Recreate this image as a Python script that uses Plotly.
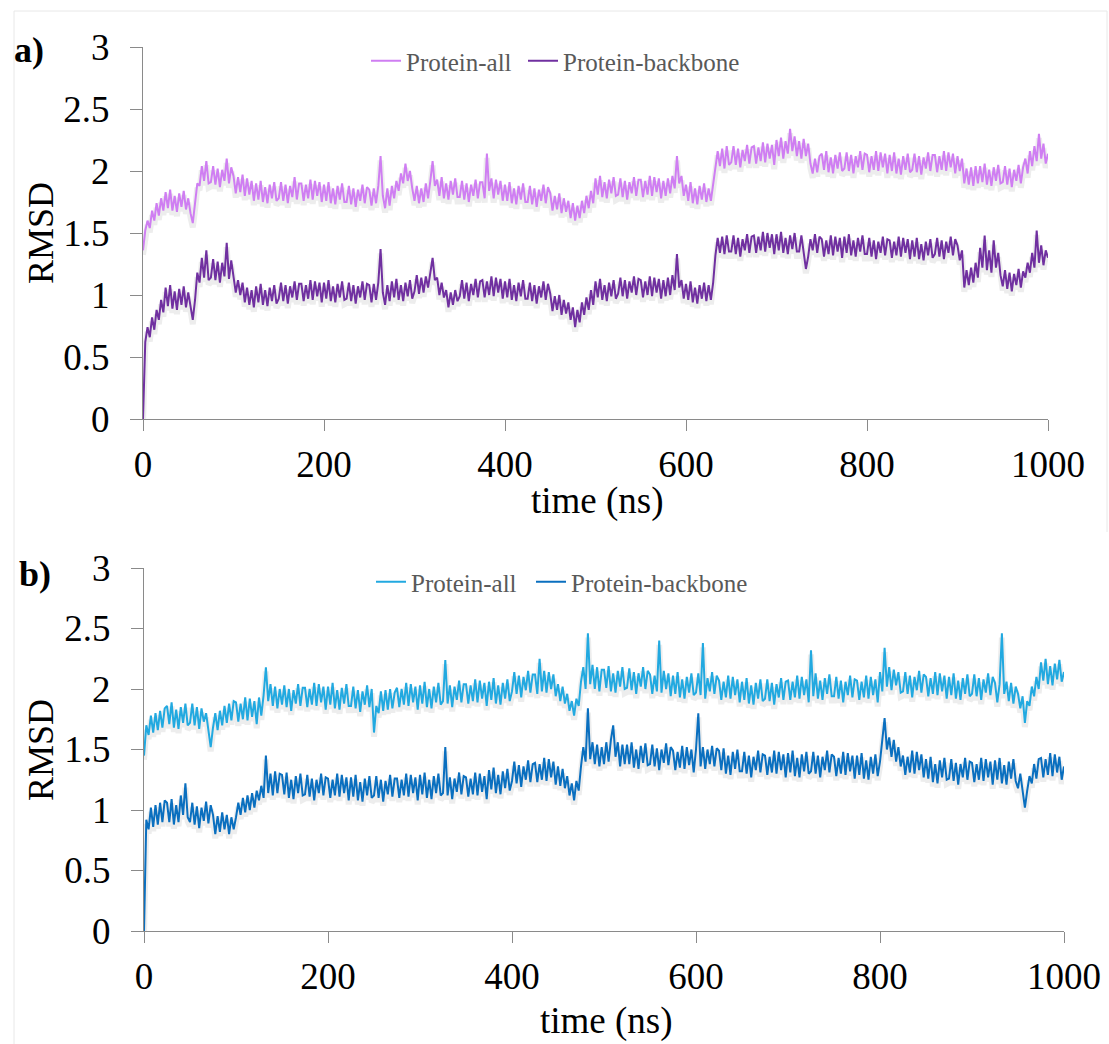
import plotly.graph_objects as go

# time grid (ns), one sample every 2.5 ns
time_ns = [i * 2.5 for i in range(401)]

# Panel a) RMSD values
a_protein_all = [
    1.36, 1.52, 1.60, 1.54, 1.68, 1.60, 1.74, 1.64, 1.78, 1.68,
    1.83, 1.70, 1.85, 1.68, 1.80, 1.67, 1.82, 1.71, 1.84, 1.69,
    1.78, 1.66, 1.58, 1.72, 1.90, 1.88, 2.04, 1.92, 2.08, 1.90,
    1.91, 2.04, 1.89, 2.02, 1.87, 2.01, 1.92, 2.10, 1.90, 2.03,
    1.96, 1.82, 1.95, 1.83, 1.97, 1.80, 1.94, 1.81, 1.92, 1.76,
    1.90, 1.77, 1.92, 1.75, 1.87, 1.74, 1.89, 1.78, 1.91, 1.76,
    1.78, 1.91, 1.76, 1.89, 1.74, 1.88, 1.79, 1.95, 1.77, 1.90,
    1.90, 1.76, 1.89, 1.78, 1.93, 1.77, 1.92, 1.80, 1.91, 1.75,
    1.89, 1.76, 1.91, 1.74, 1.86, 1.73, 1.88, 1.77, 1.90, 1.75,
    1.75, 1.88, 1.73, 1.86, 1.71, 1.85, 1.76, 1.89, 1.74, 1.87,
    1.85, 1.72, 1.86, 1.74, 1.88, 2.12, 1.80, 1.70, 1.86, 1.72,
    1.88, 1.78, 1.92, 1.84, 1.98, 1.90, 2.06, 1.92, 2.00, 1.86,
    1.76, 1.88, 1.74, 1.86, 1.75, 1.90, 1.78, 1.92, 2.08, 1.88,
    1.93, 1.80, 1.95, 1.78, 1.90, 1.77, 1.92, 1.81, 1.94, 1.79,
    1.79, 1.92, 1.77, 1.90, 1.75, 1.89, 1.80, 1.93, 1.78, 1.91,
    1.91, 1.78, 2.14, 1.84, 1.94, 1.78, 1.93, 1.81, 1.92, 1.76,
    1.89, 1.76, 1.91, 1.74, 1.86, 1.73, 1.88, 1.77, 1.90, 1.75,
    1.75, 1.88, 1.73, 1.86, 1.71, 1.85, 1.76, 1.89, 1.74, 1.87,
    1.82, 1.68, 1.80, 1.69, 1.82, 1.66, 1.78, 1.67, 1.76, 1.62,
    1.74, 1.60, 1.72, 1.62, 1.76, 1.66, 1.80, 1.70, 1.84, 1.74,
    1.94, 1.81, 1.96, 1.79, 1.91, 1.78, 1.93, 1.82, 1.95, 1.80,
    1.81, 1.94, 1.79, 1.92, 1.77, 1.91, 1.82, 1.95, 1.80, 1.93,
    1.93, 1.79, 1.92, 1.81, 1.96, 1.80, 1.95, 1.83, 1.94, 1.78,
    1.92, 1.80, 1.94, 1.82, 1.96, 1.86, 2.12, 1.90, 1.96, 1.80,
    1.89, 1.76, 1.91, 1.74, 1.86, 1.73, 1.88, 1.77, 1.90, 1.75,
    1.86, 1.76, 1.88, 2.04, 2.16, 2.04, 2.18, 2.02, 2.20, 2.05,
    2.07, 2.20, 2.05, 2.18, 2.03, 2.17, 2.08, 2.21, 2.06, 2.19,
    2.20, 2.06, 2.19, 2.08, 2.23, 2.07, 2.22, 2.10, 2.21, 2.05,
    2.25, 2.12, 2.27, 2.10, 2.24, 2.14, 2.34, 2.16, 2.28, 2.12,
    2.24, 2.10, 2.26, 2.12, 2.22, 2.06, 1.98, 2.10, 1.99, 2.12,
    2.14, 2.01, 2.16, 1.99, 2.11, 1.98, 2.13, 2.02, 2.15, 2.00,
    2.02, 2.15, 2.00, 2.13, 1.98, 2.12, 2.03, 2.16, 2.01, 2.14,
    2.13, 1.99, 2.12, 2.01, 2.16, 2.00, 2.15, 2.03, 2.14, 1.98,
    2.13, 2.00, 2.15, 1.98, 2.10, 1.97, 2.12, 2.01, 2.14, 1.99,
    2.01, 2.14, 1.99, 2.12, 1.97, 2.11, 2.02, 2.15, 2.00, 2.13,
    2.13, 1.99, 2.12, 2.01, 2.16, 2.00, 2.15, 2.03, 2.14, 1.98,
    2.12, 2.00, 2.10, 1.90, 2.02, 1.89, 2.03, 1.88, 2.04, 1.90,
    2.04, 1.91, 2.06, 1.89, 2.01, 1.88, 2.03, 1.92, 2.05, 1.90,
    1.91, 2.04, 1.89, 2.02, 1.87, 2.01, 1.92, 2.05, 1.90, 2.03,
    2.10, 1.98, 2.16, 2.04, 2.20, 2.08, 2.30, 2.10, 2.22, 2.06,
    2.14,
]
a_protein_backbone = [
    0.00, 0.62, 0.74, 0.66, 0.82, 0.72, 0.88, 0.80, 0.96, 0.86,
    1.06, 0.91, 1.08, 0.89, 1.03, 0.88, 1.05, 0.92, 1.07, 0.90,
    1.02, 0.90, 0.80, 0.96, 1.18, 1.10, 1.30, 1.14, 1.36, 1.12,
    1.14, 1.29, 1.12, 1.27, 1.10, 1.26, 1.15, 1.42, 1.13, 1.28,
    1.16, 1.02, 1.12, 1.00, 1.10, 0.94, 1.06, 0.92, 1.04, 0.90,
    1.07, 0.94, 1.09, 0.92, 1.04, 0.91, 1.06, 0.95, 1.08, 0.93,
    0.97, 1.10, 0.95, 1.08, 0.93, 1.07, 0.98, 1.11, 0.96, 1.09,
    1.09, 0.95, 1.08, 0.97, 1.12, 0.96, 1.11, 0.99, 1.10, 0.94,
    1.10, 0.97, 1.12, 0.95, 1.07, 0.94, 1.09, 0.98, 1.11, 0.96,
    0.97, 1.10, 0.95, 1.08, 0.93, 1.07, 0.98, 1.11, 0.96, 1.09,
    1.08, 0.94, 1.09, 0.96, 1.10, 1.37, 1.02, 0.92, 1.08, 0.95,
    1.11, 0.98, 1.13, 0.96, 1.08, 0.95, 1.10, 0.99, 1.12, 0.97,
    1.03, 1.16, 1.01, 1.14, 1.02, 1.15, 1.06, 1.18, 1.30, 1.12,
    1.14, 1.00, 1.10, 0.98, 1.04, 0.90, 1.02, 0.92, 1.04, 0.95,
    0.99, 1.12, 0.97, 1.10, 0.95, 1.09, 1.00, 1.13, 0.98, 1.11,
    1.12, 0.98, 1.11, 1.00, 1.15, 0.99, 1.14, 1.02, 1.13, 0.97,
    1.11, 0.98, 1.13, 0.96, 1.08, 0.95, 1.10, 0.99, 1.12, 0.97,
    0.97, 1.10, 0.95, 1.08, 0.93, 1.07, 0.98, 1.11, 0.96, 1.09,
    1.01, 0.87, 0.99, 0.88, 1.00, 0.84, 0.96, 0.85, 0.94, 0.80,
    0.90, 0.74, 0.88, 0.78, 0.94, 0.84, 0.98, 0.88, 1.04, 0.92,
    1.11, 0.98, 1.13, 0.96, 1.08, 0.95, 1.10, 0.99, 1.12, 0.97,
    1.01, 1.14, 0.99, 1.12, 0.97, 1.11, 1.02, 1.15, 1.00, 1.13,
    1.12, 0.98, 1.11, 1.00, 1.15, 0.99, 1.14, 1.02, 1.13, 0.97,
    1.12, 0.99, 1.14, 1.00, 1.16, 1.04, 1.33, 1.06, 1.12, 0.97,
    1.09, 0.96, 1.11, 0.94, 1.06, 0.93, 1.08, 0.97, 1.10, 0.95,
    1.08, 0.96, 1.10, 1.32, 1.46, 1.34, 1.47, 1.33, 1.48, 1.35,
    1.35, 1.48, 1.33, 1.46, 1.31, 1.45, 1.36, 1.49, 1.34, 1.47,
    1.48, 1.34, 1.47, 1.36, 1.51, 1.35, 1.50, 1.38, 1.49, 1.33,
    1.49, 1.36, 1.51, 1.34, 1.46, 1.33, 1.48, 1.37, 1.50, 1.35,
    1.35, 1.48, 1.33, 1.21, 1.31, 1.45, 1.36, 1.49, 1.34, 1.47,
    1.45, 1.31, 1.44, 1.33, 1.48, 1.32, 1.47, 1.35, 1.46, 1.30,
    1.47, 1.34, 1.49, 1.32, 1.44, 1.31, 1.46, 1.35, 1.48, 1.33,
    1.33, 1.46, 1.31, 1.44, 1.29, 1.43, 1.34, 1.47, 1.32, 1.45,
    1.44, 1.30, 1.43, 1.32, 1.47, 1.31, 1.46, 1.34, 1.45, 1.29,
    1.44, 1.31, 1.46, 1.29, 1.41, 1.28, 1.43, 1.32, 1.45, 1.30,
    1.33, 1.46, 1.31, 1.44, 1.29, 1.43, 1.34, 1.47, 1.32, 1.45,
    1.40, 1.28, 1.36, 1.06, 1.20, 1.08, 1.22, 1.10, 1.26, 1.14,
    1.38, 1.22, 1.48, 1.20, 1.36, 1.18, 1.44, 1.22, 1.34, 1.16,
    1.07, 1.20, 1.05, 1.18, 1.03, 1.17, 1.08, 1.21, 1.06, 1.19,
    1.14, 1.26, 1.18, 1.34, 1.22, 1.52, 1.26, 1.40, 1.24, 1.36,
    1.30,
]

# Panel b) RMSD values
b_protein_all = [
    1.45, 1.70, 1.62, 1.78, 1.64, 1.80, 1.66, 1.82, 1.68, 1.84,
    1.86, 1.71, 1.89, 1.68, 1.83, 1.67, 1.85, 1.72, 1.88, 1.70,
    1.72, 1.88, 1.70, 1.85, 1.67, 1.84, 1.73, 1.80, 1.66, 1.52,
    1.68, 1.80, 1.66, 1.82, 1.70, 1.86, 1.72, 1.88, 1.74, 1.90,
    1.89, 1.73, 1.88, 1.75, 1.93, 1.74, 1.92, 1.77, 1.90, 1.71,
    1.93, 1.78, 1.95, 2.18, 1.90, 2.04, 1.86, 2.02, 1.84, 2.00,
    1.87, 2.03, 1.85, 2.00, 1.82, 1.99, 1.88, 2.04, 1.86, 2.01,
    2.01, 1.85, 2.00, 1.87, 2.05, 1.86, 2.04, 1.89, 2.02, 1.83,
    2.02, 1.87, 2.05, 1.84, 1.99, 1.83, 2.01, 1.88, 2.04, 1.86,
    1.86, 2.02, 1.84, 1.99, 1.81, 1.98, 1.87, 2.03, 1.85, 2.00,
    1.64, 1.86, 1.80, 1.98, 1.82, 1.99, 1.83, 2.00, 1.84, 1.97,
    2.01, 1.85, 2.00, 1.87, 2.05, 1.86, 2.04, 1.89, 2.02, 1.83,
    2.03, 1.88, 2.06, 1.85, 2.00, 1.84, 2.02, 1.89, 2.05, 1.87,
    1.90, 2.24, 1.88, 2.03, 1.85, 2.02, 1.91, 2.07, 1.89, 2.04,
    2.04, 1.88, 2.03, 1.90, 2.08, 1.89, 2.07, 1.92, 2.05, 1.86,
    2.06, 1.91, 2.09, 1.88, 2.03, 1.87, 2.05, 1.92, 2.08, 1.90,
    1.98, 2.14, 1.96, 2.11, 1.93, 2.10, 1.99, 2.15, 1.97, 2.12,
    2.12, 1.96, 2.25, 1.98, 2.15, 1.97, 2.14, 2.00, 2.12, 1.94,
    2.04, 1.90, 2.02, 1.88, 1.96, 1.82, 1.90, 1.78, 1.92, 1.86,
    2.06, 2.18, 2.00, 2.46, 2.04, 2.20, 2.00, 2.18, 1.98, 2.16,
    2.16, 2.01, 2.19, 1.98, 2.13, 1.97, 2.15, 2.02, 2.18, 2.00,
    2.01, 2.17, 1.99, 2.14, 1.96, 2.13, 2.02, 2.18, 2.00, 2.15,
    2.12, 1.96, 2.11, 1.98, 2.40, 1.97, 2.15, 2.00, 2.13, 1.94,
    2.11, 1.96, 2.14, 1.93, 2.08, 1.92, 2.10, 1.97, 2.13, 1.95,
    1.97, 2.13, 1.95, 2.38, 1.92, 2.09, 1.98, 2.14, 1.96, 2.11,
    2.07, 1.91, 2.06, 1.93, 2.11, 1.92, 2.10, 1.95, 2.08, 1.89,
    2.06, 1.91, 2.09, 1.88, 2.03, 1.87, 2.05, 1.92, 2.08, 1.90,
    1.92, 2.08, 1.90, 2.05, 1.87, 2.04, 1.93, 2.09, 1.91, 2.06,
    2.07, 1.91, 2.06, 1.93, 2.11, 1.92, 2.10, 1.95, 2.08, 1.89,
    2.32, 1.94, 2.13, 1.92, 2.07, 1.91, 2.09, 1.96, 2.12, 1.94,
    1.94, 2.10, 1.92, 2.07, 1.89, 2.06, 1.95, 2.11, 1.93, 2.08,
    2.07, 1.91, 2.06, 1.93, 2.11, 1.92, 2.10, 1.95, 2.08, 1.89,
    2.14, 1.98, 2.34, 2.02, 2.18, 1.99, 2.16, 2.03, 2.14, 1.97,
    1.98, 2.14, 1.96, 2.11, 1.93, 2.10, 1.99, 2.15, 1.97, 2.12,
    2.10, 1.94, 2.09, 1.96, 2.14, 1.95, 2.13, 1.98, 2.11, 1.92,
    2.10, 1.95, 2.13, 1.92, 2.07, 1.91, 2.09, 1.96, 2.12, 1.94,
    1.96, 2.12, 1.94, 2.09, 1.91, 2.08, 1.97, 2.13, 1.95, 2.10,
    2.05, 1.89, 2.04, 2.46, 1.96, 2.06, 1.90, 2.05, 1.88, 2.02,
    1.96, 1.84, 1.94, 1.72, 1.90, 1.86, 2.02, 1.94, 2.10, 2.00,
    2.22, 2.07, 2.25, 2.04, 2.19, 2.03, 2.21, 2.08, 2.24, 2.06,
    2.14,
]
b_protein_backbone = [
    0.00, 0.92, 0.84, 1.02, 0.86, 1.04, 0.88, 1.06, 0.90, 1.08,
    1.06, 0.90, 1.09, 0.88, 1.04, 0.90, 1.12, 0.96, 1.22, 0.94,
    0.90, 1.06, 0.88, 1.03, 0.85, 1.02, 0.91, 1.07, 0.89, 1.04,
    0.96, 0.80, 0.95, 0.82, 0.98, 0.84, 0.96, 0.80, 0.94, 0.84,
    0.94, 1.06, 0.96, 1.10, 0.98, 1.12, 1.00, 1.14, 1.02, 1.16,
    1.08, 1.20, 1.10, 1.45, 1.14, 1.30, 1.12, 1.32, 1.14, 1.30,
    1.29, 1.13, 1.31, 1.10, 1.25, 1.09, 1.28, 1.14, 1.30, 1.12,
    1.13, 1.29, 1.11, 1.26, 1.08, 1.25, 1.14, 1.30, 1.12, 1.27,
    1.26, 1.10, 1.25, 1.12, 1.30, 1.11, 1.29, 1.14, 1.27, 1.08,
    1.27, 1.11, 1.29, 1.08, 1.23, 1.07, 1.26, 1.12, 1.28, 1.10,
    1.12, 1.28, 1.10, 1.25, 1.07, 1.24, 1.13, 1.29, 1.11, 1.26,
    1.26, 1.10, 1.25, 1.12, 1.30, 1.11, 1.29, 1.14, 1.27, 1.08,
    1.29, 1.13, 1.31, 1.10, 1.25, 1.09, 1.28, 1.14, 1.30, 1.12,
    1.14, 1.52, 1.12, 1.27, 1.09, 1.26, 1.15, 1.31, 1.13, 1.28,
    1.27, 1.11, 1.26, 1.13, 1.31, 1.12, 1.30, 1.15, 1.28, 1.09,
    1.33, 1.17, 1.35, 1.14, 1.29, 1.13, 1.32, 1.18, 1.34, 1.16,
    1.24, 1.40, 1.22, 1.37, 1.19, 1.36, 1.25, 1.41, 1.23, 1.38,
    1.39, 1.23, 1.38, 1.25, 1.43, 1.24, 1.42, 1.27, 1.40, 1.21,
    1.36, 1.20, 1.34, 1.18, 1.28, 1.12, 1.22, 1.08, 1.24, 1.16,
    1.36, 1.52, 1.40, 1.84, 1.42, 1.56, 1.38, 1.54, 1.36, 1.52,
    1.38, 1.56, 1.40, 1.58, 1.70, 1.44, 1.56, 1.36, 1.54, 1.38,
    1.54, 1.38, 1.56, 1.35, 1.50, 1.34, 1.53, 1.39, 1.55, 1.37,
    1.38, 1.54, 1.36, 1.51, 1.33, 1.50, 1.39, 1.55, 1.37, 1.52,
    1.49, 1.33, 1.48, 1.35, 1.53, 1.34, 1.52, 1.37, 1.50, 1.31,
    1.50, 1.80, 1.36, 1.52, 1.34, 1.50, 1.38, 1.53, 1.36, 1.51,
    1.49, 1.33, 1.51, 1.30, 1.45, 1.29, 1.48, 1.34, 1.50, 1.32,
    1.32, 1.48, 1.30, 1.45, 1.27, 1.44, 1.33, 1.49, 1.31, 1.46,
    1.45, 1.29, 1.44, 1.31, 1.49, 1.30, 1.48, 1.33, 1.46, 1.27,
    1.47, 1.31, 1.49, 1.28, 1.43, 1.27, 1.46, 1.32, 1.48, 1.30,
    1.32, 1.48, 1.30, 1.45, 1.27, 1.44, 1.33, 1.49, 1.31, 1.46,
    1.44, 1.28, 1.43, 1.30, 1.48, 1.29, 1.47, 1.32, 1.45, 1.26,
    1.45, 1.29, 1.47, 1.26, 1.41, 1.25, 1.44, 1.30, 1.46, 1.28,
    1.40, 1.56, 1.76, 1.50, 1.60, 1.44, 1.58, 1.40, 1.52, 1.36,
    1.45, 1.29, 1.44, 1.31, 1.49, 1.30, 1.48, 1.33, 1.46, 1.27,
    1.42, 1.26, 1.44, 1.23, 1.38, 1.22, 1.41, 1.27, 1.43, 1.25,
    1.26, 1.42, 1.24, 1.39, 1.21, 1.38, 1.27, 1.43, 1.25, 1.40,
    1.39, 1.23, 1.38, 1.25, 1.43, 1.24, 1.42, 1.27, 1.40, 1.21,
    1.41, 1.25, 1.43, 1.22, 1.37, 1.21, 1.40, 1.26, 1.42, 1.24,
    1.18, 1.30, 1.14, 1.02, 1.16, 1.28, 1.22, 1.38, 1.26, 1.42,
    1.43, 1.27, 1.42, 1.29, 1.47, 1.28, 1.46, 1.31, 1.44, 1.25,
    1.36,
]

for _s in (a_protein_all, a_protein_backbone, b_protein_all, b_protein_backbone):
    assert len(_s) == len(time_ns), len(_s)

series_names = ["Protein-all", "Protein-backbone"]
x_ticks = [0, 200, 400, 600, 800, 1000]
y_ticks = [0, 0.5, 1, 1.5, 2, 2.5, 3]

FONT = "Liberation Serif, Times New Roman, serif"
AXIS_GRAY = "#8a8a8a"
colors_a = ["#cf7ef2", "#7030a0"]
colors_b = ["#22a9e0", "#0a6fbf"]

W, H = 1109, 1044
fig = go.Figure()


def add_panel(xref, yref, legends, ys, cols):
    # soft shadow under the lines
    for y in ys:
        fig.add_trace(go.Scatter(
            x=time_ns, y=[v - 0.035 for v in y], mode="lines",
            line=dict(color="rgba(80,80,80,0.10)", width=6),
            xaxis=xref, yaxis=yref, showlegend=False, hoverinfo="skip"))
    for name, y, c, lg in zip(series_names, ys, cols, legends):
        fig.add_trace(go.Scatter(
            x=time_ns, y=y, mode="lines", name=name,
            line=dict(color=c, width=2.0),
            xaxis=xref, yaxis=yref, legend=lg))


add_panel("x", "y", ["legend", "legend2"], [a_protein_all, a_protein_backbone], colors_a)
add_panel("x2", "y2", ["legend3", "legend4"], [b_protein_all, b_protein_backbone], colors_b)

TICKFONT = dict(family=FONT, size=37, color="#000000")
xa = dict(range=[0, 1000], tickvals=x_ticks, showline=True, linecolor=AXIS_GRAY,
          linewidth=1.3, ticks="outside", ticklen=11, tickcolor=AXIS_GRAY,
          tickwidth=1.3, showgrid=False, zeroline=False, automargin=False,
          tickfont=TICKFONT, ticklabelstandoff=1)
ya = dict(range=[0, 3], tickvals=y_ticks, showline=True, linecolor=AXIS_GRAY,
          linewidth=1.3, ticks="outside", ticklen=12, tickcolor=AXIS_GRAY,
          tickwidth=1.3, showgrid=False, zeroline=False, automargin=False,
          tickfont=TICKFONT, ticklabelstandoff=13)


def legend_at(x_px, y_px):
    return dict(orientation="h", x=x_px / W, xanchor="left", y=1 - y_px / H,
                yanchor="middle", font=dict(family=FONT, size=25, color="#595959"),
                bgcolor="rgba(0,0,0,0)", itemwidth=30, borderwidth=0)


fig.update_layout(
    width=W, height=H, margin=dict(l=0, r=0, t=0, b=0, autoexpand=False),
    paper_bgcolor="white", plot_bgcolor="white",
    xaxis=dict(xa, domain=[143 / W, 1048 / W], anchor="y"),
    yaxis=dict(ya, domain=[1 - 419 / H, 1 - 47 / H], anchor="x"),
    xaxis2=dict(xa, domain=[144 / W, 1064 / W], anchor="y2"),
    yaxis2=dict(ya, domain=[1 - 931 / H, 1 - 568 / H], anchor="x2"),
    legend=legend_at(366, 61),
    legend2=legend_at(523, 61),
    legend3=legend_at(371, 582),
    legend4=legend_at(531, 582),
    showlegend=True,
)

annos = [
    dict(text="<b>a)</b>", x=29 / W, y=1 - 50 / H, size=36),
    dict(text="<b>b)</b>", x=35 / W, y=1 - 574 / H, size=36),
    dict(text="RMSD", x=41 / W, y=1 - 233 / H, size=36, angle=-90),
    dict(text="RMSD", x=41 / W, y=1 - 750 / H, size=36, angle=-90),
    dict(text="time (ns)", x=597 / W, y=1 - 501 / H, size=37),
    dict(text="time (ns)", x=606 / W, y=1 - 1021 / H, size=37),
]
for a in annos:
    fig.add_annotation(text=a["text"], x=a["x"], y=a["y"], xref="paper", yref="paper",
                       xanchor="center", yanchor="middle", showarrow=False,
                       textangle=a.get("angle", 0),
                       font=dict(family=FONT, size=a["size"], color="#000000"))

# faint frame of the original picture
frame = dict(color="#e8e8e8", width=1)
fig.add_shape(type="line", xref="paper", yref="paper", x0=14 / W, x1=1107 / W,
              y0=1 - 11 / H, y1=1 - 11 / H, line=frame)
fig.add_shape(type="line", xref="paper", yref="paper", x0=14 / W, x1=14 / W,
              y0=0, y1=1 - 11 / H, line=frame)
fig.add_shape(type="line", xref="paper", yref="paper", x0=1107 / W, x1=1107 / W,
              y0=1 - 532 / H, y1=1 - 11 / H, line=frame)

fig.write_html("out.html")
